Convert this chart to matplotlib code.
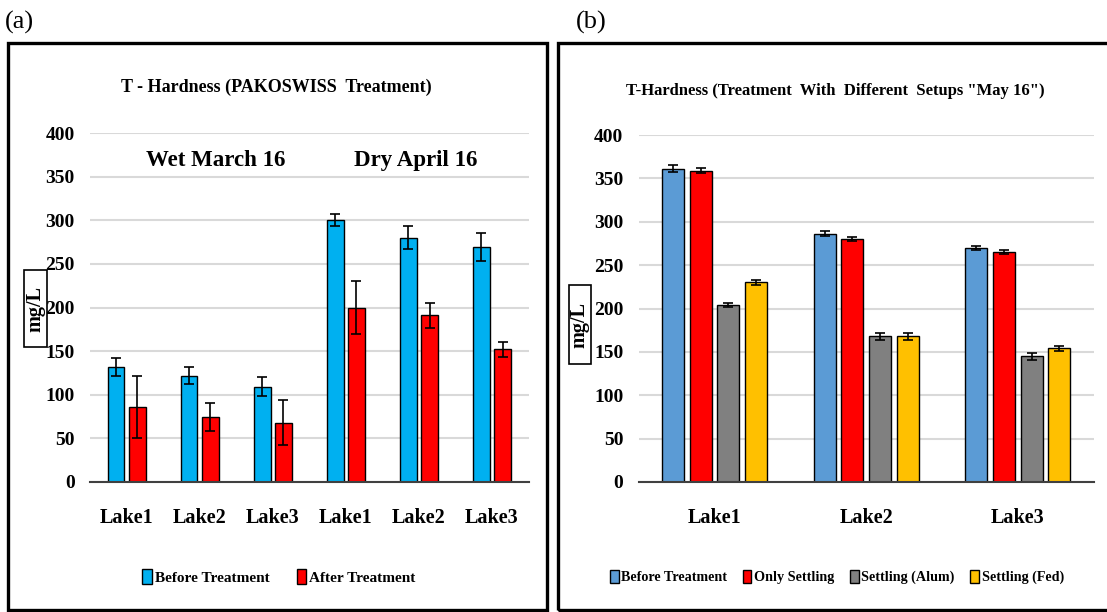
import matplotlib
matplotlib.use("Agg")
import matplotlib.pyplot as plt
from matplotlib.patches import Rectangle, Patch
import numpy as np

# ---------------- data ----------------
a_categories = ["Lake1", "Lake2", "Lake3", "Lake1", "Lake2", "Lake3"]
a_before = [132, 122, 109, 300, 280, 269]
a_before_err = [10, 10, 11, 7, 13, 16]
a_after = [86, 75, 68, 200, 191, 152]
a_after_err = [35, 16, 26, 30, 14, 9]
a_series = ["Before Treatment", "After Treatment"]
a_periods = ["Wet March 16", "Dry April 16"]

b_categories = ["Lake1", "Lake2", "Lake3"]
b_before = [361, 286, 270]
b_before_err = [4, 3, 2]
b_only = [359, 280, 265]
b_only_err = [3, 2, 2]
b_alum = [204, 168, 145]
b_alum_err = [2, 4, 4]
b_fed = [230, 168, 154]
b_fed_err = [3, 4, 3]
b_series = ["Before Treatment", "Only Settling", "Settling (Alum)", "Settling (Fed)"]

yticks = [0, 50, 100, 150, 200, 250, 300, 350, 400]

# ---------------- style ----------------
W, H = 1107, 612
fig = plt.figure(figsize=(W / 100, H / 100), dpi=100)
SERIF = ["Liberation Serif", "DejaVu Serif"]
plt.rcParams["font.family"] = SERIF


def fx(px):
    return px / W


def fy(py):
    return 1 - py / H


def style_axes(ax, ncat):
    ax.set_ylim(0, 400)
    ax.set_xlim(-0.5, ncat - 0.5)
    ax.set_yticks(yticks)
    ax.grid(axis="y", color="#d9d9d9", linewidth=1.5)
    ax.set_axisbelow(True)
    for s in ["top", "right", "left"]:
        ax.spines[s].set_visible(False)
    ax.spines["bottom"].set_color("#404040")
    ax.spines["bottom"].set_linewidth(1.5)
    ax.spines["bottom"].set_zorder(5)
    ax.tick_params(axis="both", length=0)
    ax.tick_params(axis="y", pad=11)
    ax.tick_params(axis="x", pad=19)
    for lab in ax.get_yticklabels():
        lab.set_fontsize(14)
        lab.set_fontweight("bold")
    for lab in ax.get_xticklabels():
        lab.set_fontsize(14.5)
        lab.set_fontweight("bold")


def ylabel_box(cx, top, bottom, left, right):
    fig.add_artist(Rectangle((fx(left), fy(bottom)), fx(right) - fx(left),
                             fy(top) - fy(bottom), transform=fig.transFigure,
                             facecolor="white", edgecolor="black", linewidth=1.2,
                             zorder=4))
    fig.text(fx(cx), fy((top + bottom) / 2), "mg/L", rotation=90, ha="center",
             va="center", fontsize=14.5, fontweight="bold", zorder=5)


ekw = dict(ecolor="black", elinewidth=1.2, capsize=3.5, capthick=1.2)

# ---------------- panel (a) ----------------
axa = fig.add_axes([fx(90), fy(482), fx(528.6) - fx(90), fy(133) - fy(482)])
xa = np.arange(len(a_categories))
wa = 0.23
off = 0.145
axa.bar(xa - off, a_before, wa, yerr=a_before_err, color="#00B0F0",
        edgecolor="black", linewidth=1, error_kw=ekw, zorder=3)
axa.bar(xa + off, a_after, wa, yerr=a_after_err, color="#FF0000",
        edgecolor="black", linewidth=1, error_kw=ekw, zorder=3)
axa.set_xticks(xa)
axa.set_xticklabels(a_categories)
style_axes(axa, len(a_categories))
axa.text(1.22, 362, a_periods[0], ha="center", va="baseline",
         fontsize=16.5, fontweight="bold")
axa.text(3.95, 362, a_periods[1], ha="center", va="baseline",
         fontsize=16.5, fontweight="bold")

fig.text(fx(276), fy(92), "T - Hardness (PAKOSWISS  Treatment)", ha="center",
         va="baseline", fontsize=13, fontweight="bold")
ylabel_box(35.5, 270, 347, 24, 47)
fig.text(fx(5), fy(22), "(a)", ha="left", va="center", fontsize=19)

hand_a = [Patch(facecolor="#00B0F0", edgecolor="black"),
          Patch(facecolor="#FF0000", edgecolor="black")]
fig.legend(hand_a, a_series, loc="center", bbox_to_anchor=(fx(279), fy(577)),
           ncol=2, frameon=False, prop=dict(size=11, weight="bold"),
           handlelength=0.6, handleheight=1.1, handletextpad=0.2,
           columnspacing=1.8)

fig.add_artist(Rectangle((fx(7.5), fy(610)), fx(547) - fx(7.5), fy(42.5) - fy(610),
                         transform=fig.transFigure, fill=False,
                         edgecolor="black", linewidth=2.4))

# ---------------- panel (b) ----------------
axb = fig.add_axes([fx(638.6), fy(482), fx(1093.6) - fx(638.6), fy(135) - fy(482)])
xb = np.arange(len(b_categories))
wb = 0.145
offs = [-0.273, -0.091, 0.091, 0.273]
vals = [b_before, b_only, b_alum, b_fed]
errs = [b_before_err, b_only_err, b_alum_err, b_fed_err]
cols = ["#5B9BD5", "#FF0000", "#808080", "#FFC000"]
for o, v, e, c in zip(offs, vals, errs, cols):
    axb.bar(xb + o, v, wb, yerr=e, color=c, edgecolor="black", linewidth=1,
            error_kw=ekw, zorder=3)
axb.set_xticks(xb)
axb.set_xticklabels(b_categories)
style_axes(axb, len(b_categories))

fig.text(fx(835), fy(95), 'T-Hardness (Treatment  With  Different  Setups "May 16")',
         ha="center", va="baseline", fontsize=12, fontweight="bold")
ylabel_box(579.5, 285, 364, 568.5, 590.5)
fig.text(fx(576), fy(22), "(b)", ha="left", va="center", fontsize=19)

hand_b = [Patch(facecolor=c, edgecolor="black") for c in cols]
fig.legend(hand_b, b_series, loc="center", bbox_to_anchor=(fx(837), fy(577)),
           ncol=4, frameon=False, prop=dict(size=10.2, weight="bold"),
           handlelength=0.6, handleheight=1.1, handletextpad=0.2,
           columnspacing=1.1)

fig.add_artist(Rectangle((fx(558), fy(610)), fx(1112) - fx(558), fy(42.5) - fy(610),
                         transform=fig.transFigure, fill=False,
                         edgecolor="black", linewidth=2.4))

fig.savefig("out.png", dpi=100, facecolor="white")
